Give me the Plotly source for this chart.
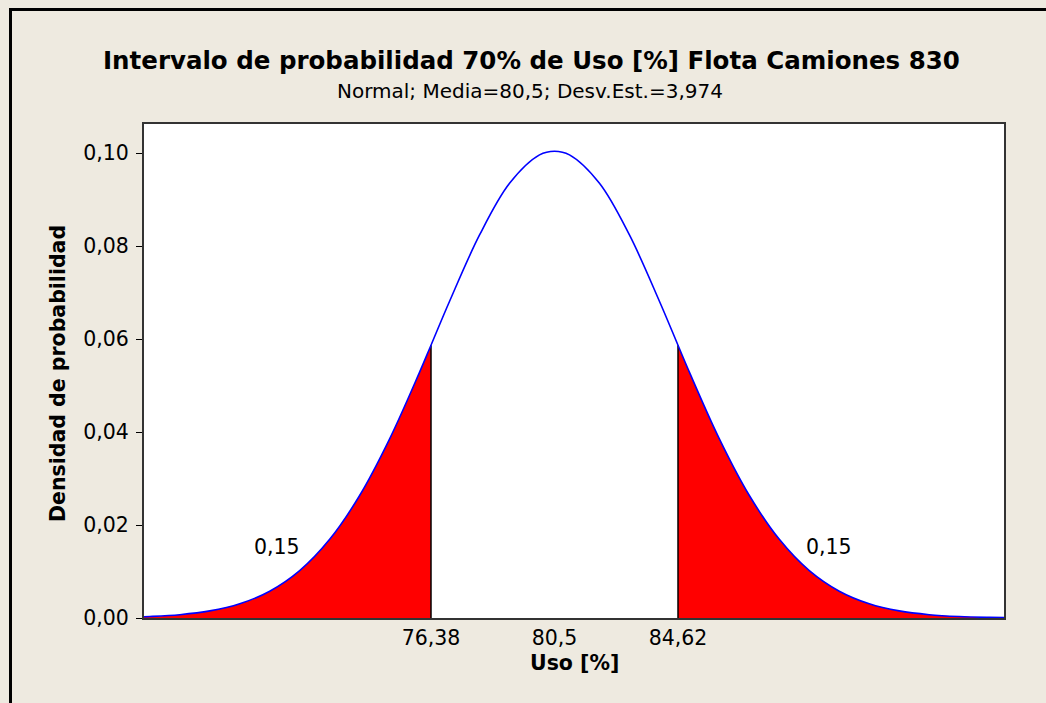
import plotly.graph_objects as go

# ---- data ----
uso = [66.8, 67, 68, 69, 70, 71, 72, 73, 74, 75, 76, 76.38, 77, 78, 79, 80, 80.5,
       81, 82, 83, 84, 84.62, 85, 86, 87, 88, 89, 90, 91, 92, 93, 94, 95, 95.5]
densidad = [0.000264, 0.000313, 0.000713, 0.001525, 0.003061, 0.005764, 0.01019,
            0.01691, 0.02635, 0.03853, 0.05288, 0.05866, 0.06812, 0.08237, 0.09349,
            0.09960, 0.10039, 0.09960, 0.09349, 0.08237, 0.06812, 0.05866, 0.05288,
            0.03853, 0.02635, 0.01691, 0.01019, 0.005764, 0.003061, 0.001525,
            0.000713, 0.000313, 0.000129, 0.000081]
limite_inf = 76.38
limite_sup = 84.62
media = 80.5
prob_cola = ["0,15", "0,15"]
x_tickvals = [76.38, 80.5, 84.62]
x_ticktext = ["76,38", "80,5", "84,62"]
y_tickvals = [0.00, 0.02, 0.04, 0.06, 0.08, 0.10]
y_ticktext = ["0,00", "0,02", "0,04", "0,06", "0,08", "0,10"]

FONT = "DejaVu Sans"
BG = "#EEEAE0"
TS = 20.5

left_x = [x for x in uso if x <= limite_inf]
left_y = [y for x, y in zip(uso, densidad) if x <= limite_inf]
right_x = [x for x in uso if x >= limite_sup]
right_y = [y for x, y in zip(uso, densidad) if x >= limite_sup]
d_inf = densidad[uso.index(limite_inf)]
d_sup = densidad[uso.index(limite_sup)]

L, T, R, B = 144, 124, 1004, 618
PW, PH = R - L, B - T


def px(X):
    return (X - L) / PW


def py(Y):
    return (B - Y) / PH


fig = go.Figure()
fig.add_trace(go.Scatter(x=left_x, y=left_y, mode="lines", line=dict(width=0, shape="spline"),
                         fill="tozeroy", fillcolor="#FF0000", hoverinfo="skip", showlegend=False))
fig.add_trace(go.Scatter(x=right_x, y=right_y, mode="lines", line=dict(width=0, shape="spline"),
                         fill="tozeroy", fillcolor="#FF0000", hoverinfo="skip", showlegend=False))
fig.add_trace(go.Scatter(x=[limite_inf, limite_inf, None, limite_sup, limite_sup],
                         y=[0, d_inf, None, 0, d_sup], mode="lines",
                         line=dict(color="black", width=1.5), showlegend=False))
fig.add_trace(go.Scatter(x=uso, y=densidad, mode="lines",
                         line=dict(color="#0000FF", width=1.6, shape="spline"), showlegend=False))

fig.update_layout(
    width=1046, height=703,
    paper_bgcolor=BG, plot_bgcolor="white",
    margin=dict(l=L, r=1046 - R, t=T, b=703 - B),
    font=dict(family=FONT, color="black", size=TS),
    xaxis=dict(range=[66.806, 95.495], tickvals=x_tickvals, ticktext=x_ticktext,
               showgrid=False, zeroline=False, showline=True, mirror=True,
               linecolor="#333333", linewidth=2, ticks="",
               tickfont=dict(size=TS, family=FONT)),
    yaxis=dict(range=[0, 0.10624], tickvals=y_tickvals, ticktext=y_ticktext,
               showgrid=False, zeroline=False, showline=True, mirror=True,
               linecolor="#333333", linewidth=2, ticks="outside", ticklen=6,
               tickcolor="black", ticklabelstandoff=3,
               tickfont=dict(size=TS, family=FONT)),
    annotations=[
        dict(text="<b>Intervalo de probabilidad 70% de Uso [%] Flota Camiones 830</b>",
             xref="paper", yref="paper", x=px(531.5), y=py(61), showarrow=False,
             xanchor="center", yanchor="middle", font=dict(size=24.5, family=FONT)),
        dict(text="Normal; Media=80,5; Desv.Est.=3,974", xref="paper", yref="paper",
             x=px(530), y=py(91), showarrow=False,
             xanchor="center", yanchor="middle", font=dict(size=20, family=FONT)),
        dict(text="<b>Densidad de probabilidad</b>", xref="paper", yref="paper",
             x=px(58), y=py(374), textangle=-90, showarrow=False,
             xanchor="center", yanchor="middle", font=dict(size=TS, family=FONT)),
        dict(text="<b>Uso [%]</b>", xref="paper", yref="paper",
             x=px(574), y=py(663), showarrow=False,
             xanchor="center", yanchor="middle", font=dict(size=TS, family=FONT)),
        dict(text=prob_cola[0], x=71.24, y=0.0153, showarrow=False,
             xanchor="center", yanchor="middle", font=dict(size=TS, family=FONT)),
        dict(text=prob_cola[1], x=89.66, y=0.0153, showarrow=False,
             xanchor="center", yanchor="middle", font=dict(size=TS, family=FONT)),
    ],
    shapes=[
        dict(type="line", xref="paper", yref="paper",
             x0=px(10.5), x1=px(10.5), y0=py(720), y1=py(8),
             line=dict(color="black", width=3)),
        dict(type="line", xref="paper", yref="paper",
             x0=px(9), x1=px(1060), y0=py(9.5), y1=py(9.5),
             line=dict(color="black", width=3)),
    ],
)

fig.write_html(
    "out.html",
    config={"displayModeBar": False},
    post_script="document.body.style.margin='0';document.body.style.background='%s';" % BG,
)
